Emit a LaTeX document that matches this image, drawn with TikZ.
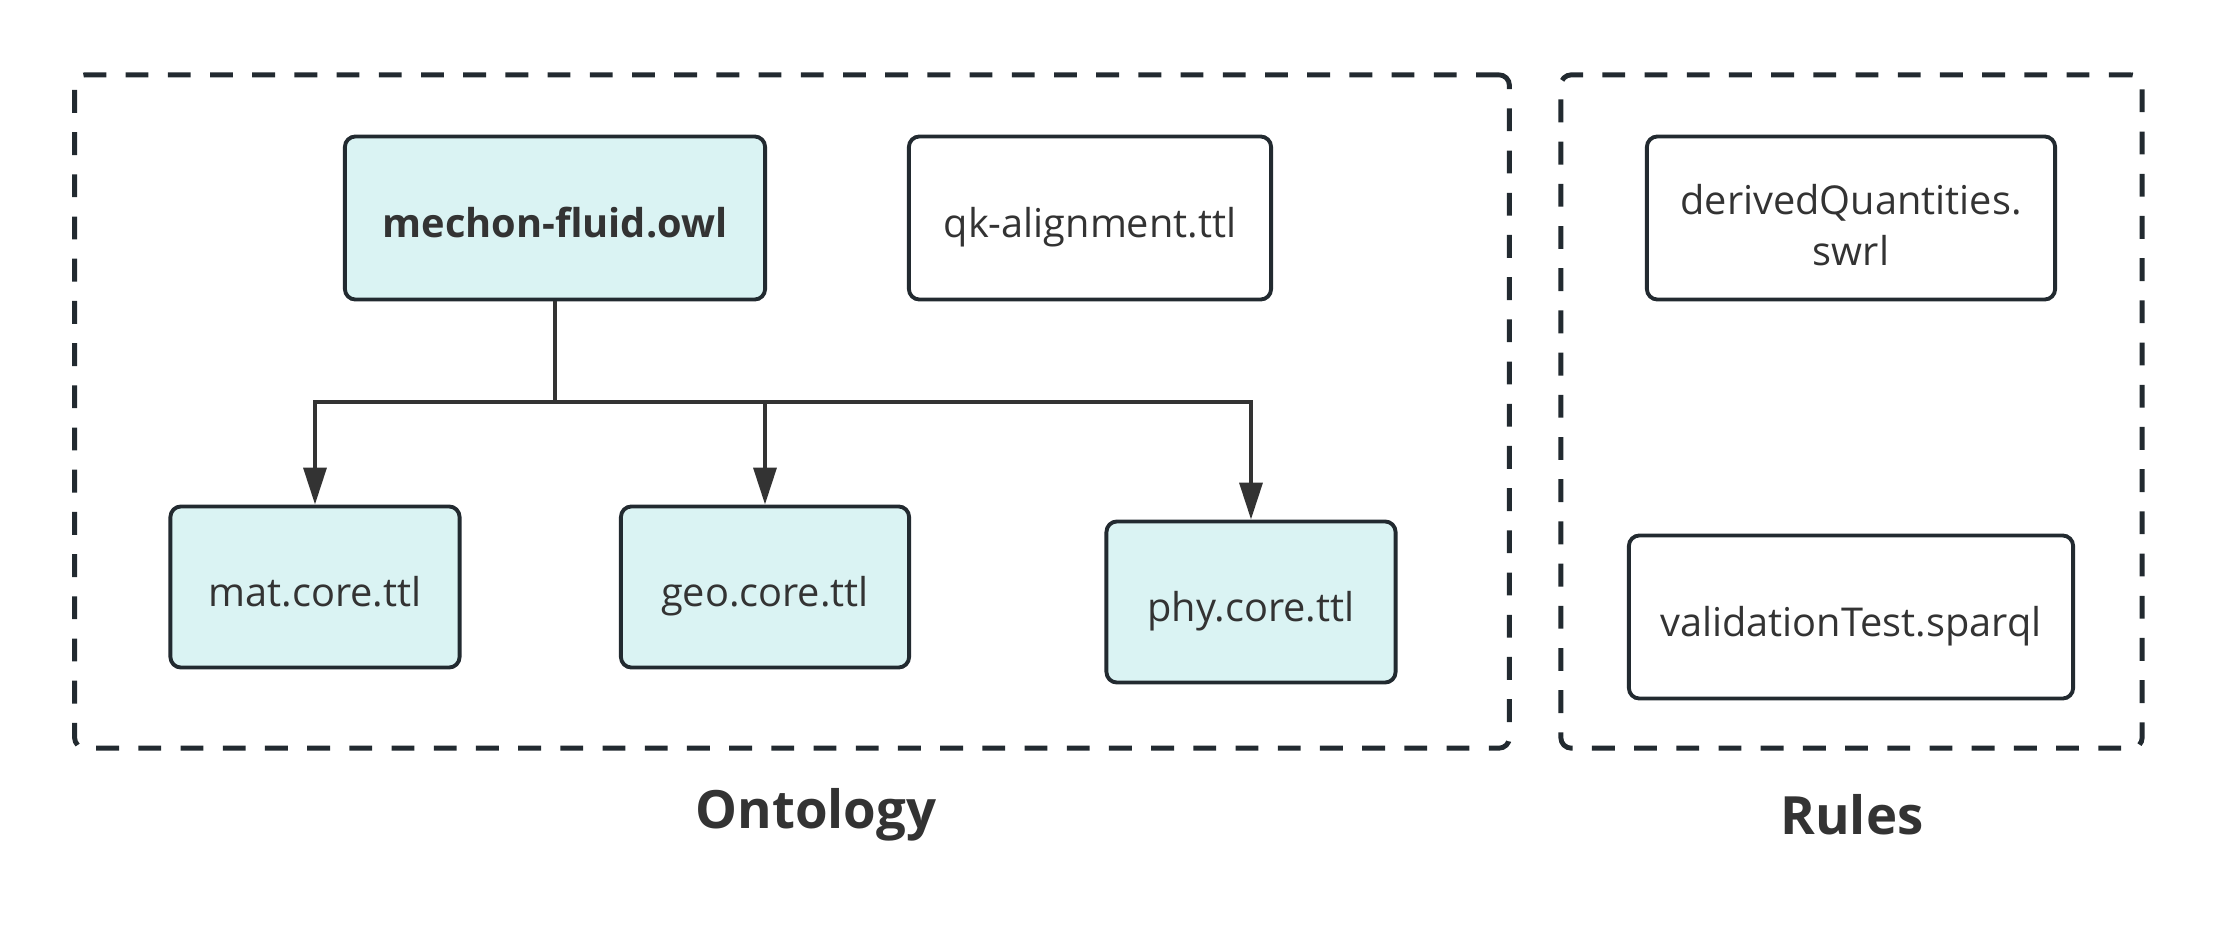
\documentclass[tikz,border=0pt]{standalone}
\usepackage{fontspec}
\setmainfont{Open Sans}
\usetikzlibrary{arrows.meta}

\definecolor{edgegray}{HTML}{333333}
\definecolor{framegray}{HTML}{222A30}
\definecolor{filecyan}{HTML}{DAF3F3}

\begin{document}
\begin{tikzpicture}[x=0.01cm, y=-0.01cm,
    group/.style={draw=framegray, line width=1.4pt, dash pattern=on 6.5pt off 5.5pt, rounded corners=3pt, inner sep=0pt},
    file/.style={draw=framegray, line width=1.1pt, rounded corners=3pt, text=edgegray, font=\fontsize{11.3}{14}\selectfont, align=center, inner sep=0pt, minimum height=1.63cm, text height=11pt, text depth=0pt},
    core/.style={file, fill=filecyan},
    grouplabel/.style={text=edgegray, font=\fontsize{15}{18}\selectfont\bfseries},
    link/.style={draw=edgegray, line width=1.1pt, -{Triangle[length=10.5pt, width=6.5pt]}}]
        \useasboundingbox (0,0) rectangle (2217,945);

        % Groups
        \node[group, minimum width=14.34cm, minimum height=6.73cm] (onto) at (792, 411.5) {};
        \node[group, minimum width=5.81cm, minimum height=6.73cm] (rules) at (1851.5, 411.5) {};
        \node[grouplabel] (ontolabel) at (816, 815) {Ontology};
        \node[grouplabel] (ruleslabel) at (1852, 815) {Rules};

        % Nodes
        \node[core, minimum width=4.2cm, font=\fontsize{11.3}{14}\selectfont\bfseries] (owl) at (555, 218) {mechon-fluid.owl};
        \node[file, minimum width=3.62cm] (align) at (1090, 218) {qk-alignment.ttl};
        \node[core, minimum width=2.89cm, minimum height=1.61cm] (mat) at (315, 587) {mat.core.ttl};
        \node[core, minimum width=2.88cm, minimum height=1.61cm] (geo) at (765, 587) {geo.core.ttl};
        \node[core, minimum width=2.89cm, minimum height=1.61cm] (phy) at (1251, 602) {phy.core.ttl};
        \node[file, minimum width=4.08cm, text height=, text depth=] (swrl) at (1851, 218) {};
        \node[text=edgegray, font=\fontsize{11.3}{14.5}\selectfont, align=center] (swrltext) at (1851, 225) {derivedQuantities.\\swrl};
        \node[file, minimum width=4.44cm] (sparql) at (1851, 617) {validationTest.sparql};

        % Edges
        \coordinate (fork) at (555, 402);
        \draw[link] (owl.south) -- (fork) -| (mat.north);
        \draw[link] (fork) -| (geo.north);
        \draw[link] (fork) -| (phy.north);
    \end{tikzpicture}
\end{document}
